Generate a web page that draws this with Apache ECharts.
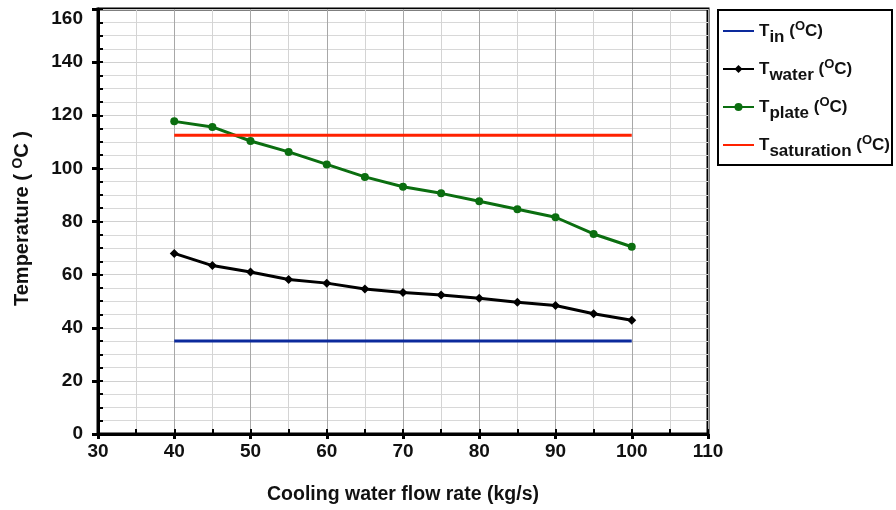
<!DOCTYPE html>
<html><head><meta charset="utf-8">
<script src="https://cdn.jsdelivr.net/npm/echarts@6/dist/echarts.min.js"></script>
<style>html,body{margin:0;padding:0;background:#fff}#c{width:896px;height:510px}</style>
</head><body><div id="c"></div>
<script>
const flowRates = [40,45,50,55,60,65,70,75,80,85,90,95,100];
const tIn = [35,35,35,35,35,35,35,35,35,35,35,35,35];
const tWater = [68.0,63.4,61.0,58.2,56.8,54.6,53.3,52.3,51.1,49.6,48.4,45.3,42.8];
const tPlate = [117.7,115.6,110.3,106.2,101.5,96.8,93.1,90.6,87.6,84.6,81.6,75.3,70.5];
const tSat = [112.5,112.5,112.5,112.5,112.5,112.5,112.5,112.5,112.5,112.5,112.5,112.5,112.5];
const xTicks = {min:30, max:110, interval:10, minorInterval:5};
const yTicks = {min:0, max:160, interval:20, minorInterval:5};
const legendSubs = {Tin:'in', Twater:'water', Tplate:'plate', Tsaturation:'saturation'};

const pairs = arr => flowRates.map((x,i)=>[x,arr[i]]);
const FONT = 'Liberation Sans';
const chart = echarts.init(document.getElementById('c'));
chart.setOption({
  animation:false,
  grid:{left:98,right:188,top:9,bottom:76,show:true,borderColor:'#000',borderWidth:3,backgroundColor:'transparent'},
  legend:{
    orient:'vertical', left:718, top:10,
    borderColor:'#000', borderWidth:2, padding:[10,2,5,4],
    itemWidth:31, itemHeight:10, itemGap:12,
    data:[
      {name:'Tin', itemStyle:{opacity:0}},
      {name:'Twater'},
      {name:'Tplate'},
      {name:'Tsaturation', itemStyle:{opacity:0}}
    ],
    formatter: n => 'T{sub|'+legendSubs[n]+'} ({sup|O}C)',
    textStyle:{fontFamily:FONT,fontSize:17,fontWeight:'bold',color:'#111',
      rich:{
        sub:{fontFamily:FONT,fontSize:17,fontWeight:'bold',color:'#111',padding:[13,0,0,0]},
        sup:{fontFamily:FONT,fontSize:13,fontWeight:'bold',color:'#111',padding:[0,0,9,0]}
      }}
  },
  xAxis:[{
    type:'value', min:xTicks.min, max:xTicks.max, interval:xTicks.interval,
    name:'Cooling water flow rate (kg/s)', nameLocation:'middle', nameGap:51,
    nameTextStyle:{fontFamily:FONT,fontSize:19.5,fontWeight:'bold',color:'#111'},
    axisLine:{lineStyle:{color:'#000',width:3}},
    axisTick:{inside:false,length:5,lineStyle:{color:'#000',width:3}},
    axisLabel:{fontFamily:FONT,fontSize:19,fontWeight:'bold',color:'#111',margin:8},
    splitLine:{show:true,lineStyle:{color:'#a8a8a8',width:1}},
    minorTick:{show:false,splitNumber:2},
    minorSplitLine:{show:true,lineStyle:{color:'#d4d4d4',width:1}}
  },{
    type:'value', position:'bottom', offset:0, min:xTicks.min, max:xTicks.max, interval:xTicks.minorInterval,
    axisLine:{show:false}, axisLabel:{show:false}, splitLine:{show:false},
    axisTick:{show:true,inside:true,length:5,lineStyle:{color:'#000',width:2}}
  }],
  yAxis:[{
    type:'value', min:yTicks.min, max:yTicks.max, interval:yTicks.interval,
    name:'Temperature ( {sup|O}C )', nameLocation:'middle', nameGap:64,
    nameTextStyle:{fontFamily:FONT,fontSize:20,fontWeight:'bold',color:'#111',padding:[0,0,0,6],
      rich:{sup:{fontFamily:FONT,fontSize:14,fontWeight:'bold',color:'#111',padding:[0,0,9,0]}}},
    axisLine:{lineStyle:{color:'#000',width:3}},
    axisTick:{inside:false,length:6,lineStyle:{color:'#000',width:3}},
    axisLabel:{fontFamily:FONT,fontSize:19,fontWeight:'bold',color:'#111',margin:15,
      formatter: v => v === yTicks.max ? '{top|'+v+'}' : String(v),
      rich:{top:{fontFamily:FONT,fontSize:19,fontWeight:'bold',color:'#111',padding:[20,0,0,0]}}},
    splitLine:{show:true,lineStyle:{color:'#d0d0d0',width:1}},
    minorTick:{show:false,splitNumber:4},
    minorSplitLine:{show:true,lineStyle:{color:'#d8d8d8',width:1}}
  },{
    type:'value', position:'left', offset:0, min:yTicks.min, max:yTicks.max, interval:yTicks.minorInterval,
    axisLine:{show:false}, axisLabel:{show:false}, splitLine:{show:false},
    axisTick:{show:true,inside:true,length:5,lineStyle:{color:'#000',width:2}}
  }],
  series:[
    {name:'Tin',type:'line',data:pairs(tIn),symbol:'none',lineStyle:{color:'#0c2a9c',width:3},itemStyle:{color:'#0c2a9c'}},
    {name:'Twater',type:'line',data:pairs(tWater),symbol:'diamond',symbolSize:9,lineStyle:{color:'#000',width:3},itemStyle:{color:'#000'}},
    {name:'Tplate',type:'line',data:pairs(tPlate),symbol:'circle',symbolSize:8,lineStyle:{color:'#0b6e10',width:3},itemStyle:{color:'#0b6e10'}},
    {name:'Tsaturation',type:'line',data:pairs(tSat),symbol:'none',lineStyle:{color:'#ff2200',width:3},itemStyle:{color:'#ff2200'}}
  ]
});
</script></body></html>
